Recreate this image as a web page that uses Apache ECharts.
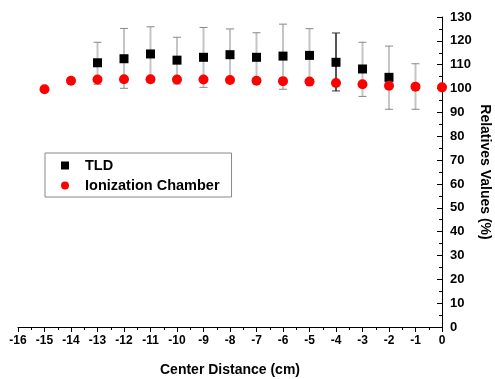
<!DOCTYPE html>
<html>
<head>
<meta charset="utf-8">
<script src="https://cdn.jsdelivr.net/npm/echarts@6/dist/echarts.min.js"></script>
<style>
  html, body { margin: 0; padding: 0; background: #fff; }
  #chart { width: 495px; height: 379px; }
</style>
</head>
<body>
<div id="chart"></div>
<script>
// center distance (cm)
const tldX = [-13, -12, -11, -10, -9, -8, -7, -6, -5, -4, -3, -2, -1];
// the -1 cm TLD marker is hidden behind the chamber point in the source
const tldValues = [110.8, 112.5, 114.5, 111.9, 113.1, 114.2, 113.1, 113.6, 113.9, 111.0, 108.2, 104.7, null];
const tldLow = [101.8, 100.1, 102.5, 101.9, 100.5, 102.5, 102.8, 99.7, 102.6, 99.0, 96.7, 91.3, 91.3];
const tldHigh = [119.4, 125.2, 125.9, 121.5, 125.6, 125.0, 123.4, 127.0, 125.1, 123.3, 119.4, 117.8, 110.4];

const icX = [-15, -14, -13, -12, -11, -10, -9, -8, -7, -6, -5, -4, -3, -2, -1, 0];
const icValues = [99.7, 103.3, 103.8, 103.9, 103.9, 103.8, 103.8, 103.6, 103.3, 103.1, 102.9, 102.3, 101.8, 101.2, 100.8, 100.5];

const FONT = 'Liberation Sans';

const chart = echarts.init(document.getElementById('chart'));

const option = {
  animation: false,
  grid: { left: 18, right: 53, top: 17, bottom: 52, outerBoundsMode: 'none' },
  legend: {
    orient: 'vertical',
    left: 45,
    top: 153,
    padding: [5, 12, 4, 16],
    itemGap: 5,
    itemWidth: 8,
    itemHeight: 8,
    borderColor: '#888',
    borderWidth: 1,
    textStyle: { fontFamily: FONT, fontWeight: 'bold', fontSize: 14.5, color: '#000', padding: [0, 0, 0, 11] },
    data: [
      { name: 'TLD', icon: 'rect' },
      { name: 'Ionization Chamber', icon: 'circle' }
    ]
  },
  xAxis: {
    type: 'value',
    min: -16,
    max: 0,
    interval: 1,
    name: 'Center Distance (cm)',
    nameLocation: 'middle',
    nameGap: 36,
    nameTextStyle: { fontFamily: FONT, fontWeight: 'bold', fontSize: 14, color: '#000' },
    axisLine: { onZero: false, lineStyle: { color: '#000', width: 1 } },
    axisTick: { show: true, length: 5, lineStyle: { color: '#000' } },
    minorTick: { show: true, splitNumber: 2, length: 3, lineStyle: { color: '#000' } },
    axisLabel: { fontFamily: FONT, fontWeight: 'bold', fontSize: 12, color: '#000', margin: 8 },
    splitLine: { show: false }
  },
  yAxis: {
    type: 'value',
    position: 'right',
    min: 0,
    max: 130,
    interval: 10,
    name: 'Relatives Values (%)',
    nameLocation: 'middle',
    nameRotate: -90,
    nameGap: 43,
    nameMoveOverlap: false,
    nameTextStyle: { fontFamily: FONT, fontWeight: 'bold', fontSize: 14, color: '#000', verticalAlign: 'middle' },
    axisLine: { show: true, onZero: false, lineStyle: { color: '#000', width: 1 } },
    axisTick: { show: true, inside: true, length: 5, lineStyle: { color: '#000' } },
    minorTick: { show: true, splitNumber: 2, length: 3, lineStyle: { color: '#000' } },
    axisLabel: { fontFamily: FONT, fontWeight: 'bold', fontSize: 13, color: '#000', margin: 8 },
    splitLine: { show: false }
  },
  series: [
    {
      name: 'TLD error',
      type: 'custom',
      z: 1,
      data: tldX.map((x, i) => [x, tldLow[i], tldHigh[i]]),
      renderItem: (params, api) => {
        const x = api.value(0);
        const lo = api.coord([x, api.value(1)]);
        const hi = api.coord([x, api.value(2)]);
        const color = x === -4 ? '#555' : '#c4c4c4';
        const capColor = x === -4 ? '#333' : '#888';
        const w = 4;
        return {
          type: 'group',
          children: [
            { type: 'line', shape: { x1: lo[0], y1: lo[1], x2: hi[0], y2: hi[1] }, style: { stroke: color, lineWidth: 2 } },
            { type: 'line', shape: { x1: hi[0] - w, y1: hi[1], x2: hi[0] + w, y2: hi[1] }, style: { stroke: capColor, lineWidth: 1 } },
            { type: 'line', shape: { x1: lo[0] - w, y1: lo[1], x2: lo[0] + w, y2: lo[1] }, style: { stroke: capColor, lineWidth: 1 } }
          ]
        };
      },
      encode: { x: 0, y: [1, 2] },
      silent: true
    },
    {
      name: 'TLD',
      type: 'scatter',
      z: 2,
      symbol: 'rect',
      symbolSize: 9,
      itemStyle: { color: '#000', opacity: 1 },
      data: tldX.map((x, i) => [x, tldValues[i]])
    },
    {
      name: 'Ionization Chamber',
      type: 'scatter',
      z: 3,
      symbol: 'circle',
      symbolSize: 10,
      itemStyle: { color: '#ff0000', opacity: 1 },
      data: icX.map((x, i) => [x, icValues[i]])
    }
  ]
};

chart.setOption(option);
</script>
</body>
</html>
